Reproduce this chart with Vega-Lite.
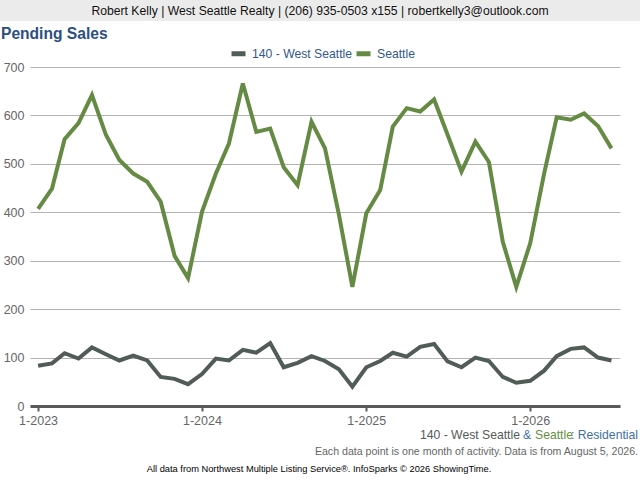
{
  "$schema": "https://vega.github.io/schema/vega-lite/v6.json",
  "width": 590,
  "height": 339,
  "autosize": {"type": "none"},
  "padding": {"left": 30, "top": 67, "right": 20, "bottom": 74},
  "background": "white",
  "config": {"view": {"stroke": null}, "font": "Liberation Sans"},
  "layer": [
    {
      "data": {"values": [{}]},
      "mark": {"type": "rect", "color": "#ebebeb"},
      "encoding": {"x": {"value": -30}, "x2": {"value": 610}, "y": {"value": -67}, "y2": {"value": -46}}
    },
    {
      "data": {"values": [{}]},
      "mark": {"type": "text", "fontSize": 12.2, "color": "#111111", "align": "center", "baseline": "middle"},
      "encoding": {"x": {"value": 290}, "y": {"value": -56}, "text": {"value": "Robert Kelly | West Seattle Realty | (206) 935-0503 x155 | robertkelly3@outlook.com"}}
    },
    {
      "data": {"values": [{}]},
      "mark": {"type": "text", "fontSize": 15.6, "fontWeight": "bold", "color": "#2b5080", "align": "left", "baseline": "middle"},
      "encoding": {"x": {"value": -29}, "y": {"value": -33}, "text": {"value": "Pending Sales"}}
    },
    {
      "data": {
        "values": [
          {"date": "2023-01-01", "area": "Seattle", "value": 407},
          {"date": "2023-02-01", "area": "Seattle", "value": 449},
          {"date": "2023-03-01", "area": "Seattle", "value": 551},
          {"date": "2023-04-01", "area": "Seattle", "value": 584},
          {"date": "2023-05-01", "area": "Seattle", "value": 642},
          {"date": "2023-06-01", "area": "Seattle", "value": 560},
          {"date": "2023-07-01", "area": "Seattle", "value": 508},
          {"date": "2023-08-01", "area": "Seattle", "value": 480},
          {"date": "2023-09-01", "area": "Seattle", "value": 463},
          {"date": "2023-10-01", "area": "Seattle", "value": 422},
          {"date": "2023-11-01", "area": "Seattle", "value": 310},
          {"date": "2023-12-01", "area": "Seattle", "value": 264},
          {"date": "2024-01-01", "area": "Seattle", "value": 401},
          {"date": "2024-02-01", "area": "Seattle", "value": 480},
          {"date": "2024-03-01", "area": "Seattle", "value": 542},
          {"date": "2024-04-01", "area": "Seattle", "value": 666},
          {"date": "2024-05-01", "area": "Seattle", "value": 566},
          {"date": "2024-06-01", "area": "Seattle", "value": 573},
          {"date": "2024-07-01", "area": "Seattle", "value": 493},
          {"date": "2024-08-01", "area": "Seattle", "value": 456},
          {"date": "2024-09-01", "area": "Seattle", "value": 587},
          {"date": "2024-10-01", "area": "Seattle", "value": 532},
          {"date": "2024-11-01", "area": "Seattle", "value": 395},
          {"date": "2024-12-01", "area": "Seattle", "value": 246},
          {"date": "2025-01-01", "area": "Seattle", "value": 398},
          {"date": "2025-02-01", "area": "Seattle", "value": 446},
          {"date": "2025-03-01", "area": "Seattle", "value": 577},
          {"date": "2025-04-01", "area": "Seattle", "value": 615},
          {"date": "2025-05-01", "area": "Seattle", "value": 608},
          {"date": "2025-06-01", "area": "Seattle", "value": 633},
          {"date": "2025-07-01", "area": "Seattle", "value": 560},
          {"date": "2025-08-01", "area": "Seattle", "value": 484},
          {"date": "2025-09-01", "area": "Seattle", "value": 546},
          {"date": "2025-10-01", "area": "Seattle", "value": 504},
          {"date": "2025-11-01", "area": "Seattle", "value": 339},
          {"date": "2025-12-01", "area": "Seattle", "value": 246},
          {"date": "2026-01-01", "area": "Seattle", "value": 336},
          {"date": "2026-02-01", "area": "Seattle", "value": 480},
          {"date": "2026-03-01", "area": "Seattle", "value": 596},
          {"date": "2026-04-01", "area": "Seattle", "value": 591},
          {"date": "2026-05-01", "area": "Seattle", "value": 604},
          {"date": "2026-06-01", "area": "Seattle", "value": 578},
          {"date": "2026-07-01", "area": "Seattle", "value": 532},
          {"date": "2023-01-01", "area": "140 - West Seattle", "value": 83},
          {"date": "2023-02-01", "area": "140 - West Seattle", "value": 88},
          {"date": "2023-03-01", "area": "140 - West Seattle", "value": 109},
          {"date": "2023-04-01", "area": "140 - West Seattle", "value": 98},
          {"date": "2023-05-01", "area": "140 - West Seattle", "value": 121},
          {"date": "2023-06-01", "area": "140 - West Seattle", "value": 107},
          {"date": "2023-07-01", "area": "140 - West Seattle", "value": 94},
          {"date": "2023-08-01", "area": "140 - West Seattle", "value": 104},
          {"date": "2023-09-01", "area": "140 - West Seattle", "value": 94},
          {"date": "2023-10-01", "area": "140 - West Seattle", "value": 60},
          {"date": "2023-11-01", "area": "140 - West Seattle", "value": 56},
          {"date": "2023-12-01", "area": "140 - West Seattle", "value": 45},
          {"date": "2024-01-01", "area": "140 - West Seattle", "value": 66},
          {"date": "2024-02-01", "area": "140 - West Seattle", "value": 98},
          {"date": "2024-03-01", "area": "140 - West Seattle", "value": 94},
          {"date": "2024-04-01", "area": "140 - West Seattle", "value": 116},
          {"date": "2024-05-01", "area": "140 - West Seattle", "value": 110},
          {"date": "2024-06-01", "area": "140 - West Seattle", "value": 130},
          {"date": "2024-07-01", "area": "140 - West Seattle", "value": 80},
          {"date": "2024-08-01", "area": "140 - West Seattle", "value": 89},
          {"date": "2024-09-01", "area": "140 - West Seattle", "value": 103},
          {"date": "2024-10-01", "area": "140 - West Seattle", "value": 93},
          {"date": "2024-11-01", "area": "140 - West Seattle", "value": 76},
          {"date": "2024-12-01", "area": "140 - West Seattle", "value": 40},
          {"date": "2025-01-01", "area": "140 - West Seattle", "value": 80},
          {"date": "2025-02-01", "area": "140 - West Seattle", "value": 93},
          {"date": "2025-03-01", "area": "140 - West Seattle", "value": 110},
          {"date": "2025-04-01", "area": "140 - West Seattle", "value": 102},
          {"date": "2025-05-01", "area": "140 - West Seattle", "value": 122},
          {"date": "2025-06-01", "area": "140 - West Seattle", "value": 128},
          {"date": "2025-07-01", "area": "140 - West Seattle", "value": 92},
          {"date": "2025-08-01", "area": "140 - West Seattle", "value": 80},
          {"date": "2025-09-01", "area": "140 - West Seattle", "value": 100},
          {"date": "2025-10-01", "area": "140 - West Seattle", "value": 93},
          {"date": "2025-11-01", "area": "140 - West Seattle", "value": 60},
          {"date": "2025-12-01", "area": "140 - West Seattle", "value": 48},
          {"date": "2026-01-01", "area": "140 - West Seattle", "value": 52},
          {"date": "2026-02-01", "area": "140 - West Seattle", "value": 73},
          {"date": "2026-03-01", "area": "140 - West Seattle", "value": 103},
          {"date": "2026-04-01", "area": "140 - West Seattle", "value": 118},
          {"date": "2026-05-01", "area": "140 - West Seattle", "value": 121},
          {"date": "2026-06-01", "area": "140 - West Seattle", "value": 100},
          {"date": "2026-07-01", "area": "140 - West Seattle", "value": 94}
        ]
      },
      "mark": {"type": "line", "strokeWidth": 4},
      "encoding": {
        "x": {
          "field": "date",
          "type": "temporal",
          "scale": {
            "type": "utc",
            "domain": [
              {"year": 2022, "month": 12, "date": 14, "utc": true},
              {"year": 2026, "month": 7, "date": 20, "utc": true}
            ]
          },
          "axis": {
            "title": null,
            "values": [
              {"year": 2023, "month": 1, "date": 1, "utc": true},
              {"year": 2024, "month": 1, "date": 1, "utc": true},
              {"year": 2025, "month": 1, "date": 1, "utc": true},
              {"year": 2026, "month": 1, "date": 1, "utc": true}
            ],
            "labelExpr": "utcFormat(datum.value, '%-m-%Y')",
            "grid": false,
            "domainColor": "#5a5a5a",
            "domainWidth": 3,
            "tickColor": "#5a5a5a",
            "tickWidth": 2,
            "tickSize": 5,
            "labelPadding": 3,
            "labelColor": "#666666",
            "labelFontSize": 12.5,
            "labelFlush": false
          }
        },
        "y": {
          "field": "value",
          "type": "quantitative",
          "scale": {"domain": [0, 700]},
          "axis": {
            "title": null,
            "values": [0, 100, 200, 300, 400, 500, 600, 700],
            "domain": false,
            "ticks": false,
            "gridColor": "#b3b3b3",
            "gridWidth": 1,
            "labelPadding": 6,
            "labelColor": "#666666",
            "labelFontSize": 12.5
          }
        },
        "color": {
          "field": "area",
          "type": "nominal",
          "scale": {"domain": ["140 - West Seattle", "Seattle"], "range": ["#515c57", "#658a43"]},
          "legend": {
            "orient": "none",
            "legendX": 199,
            "legendY": -23,
            "direction": "horizontal",
            "title": null,
            "symbolType": "stroke",
            "symbolStrokeWidth": 5,
            "symbolSize": 196,
            "labelFontSize": 12.2,
            "labelColor": "#34598a",
            "columnPadding": -7,
            "labelOffset": 4
          }
        }
      }
    },
    {
      "data": {"values": [{}]},
      "mark": {"type": "text", "fontSize": 12.2, "color": "#555b58", "align": "right", "baseline": "middle"},
      "encoding": {"x": {"value": 490}, "y": {"value": 368}, "text": {"value": "140 - West Seattle"}}
    },
    {
      "data": {"values": [{}]},
      "mark": {"type": "text", "fontSize": 12.2, "color": "#3f6fa6", "align": "left", "baseline": "middle"},
      "encoding": {"x": {"value": 493}, "y": {"value": 368}, "text": {"value": "&"}}
    },
    {
      "data": {"values": [{}]},
      "mark": {"type": "text", "fontSize": 12.2, "color": "#66903f", "align": "left", "baseline": "middle"},
      "encoding": {"x": {"value": 505}, "y": {"value": 368}, "text": {"value": "Seattle"}}
    },
    {
      "data": {"values": [{}]},
      "mark": {"type": "text", "fontSize": 12.2, "color": "#3f6fa6", "align": "right", "baseline": "middle"},
      "encoding": {"x": {"value": 608}, "y": {"value": 368}, "text": {"value": ": Residential"}}
    },
    {
      "data": {"values": [{}]},
      "mark": {"type": "text", "fontSize": 10.6, "color": "#666666", "align": "right", "baseline": "middle"},
      "encoding": {"x": {"value": 608}, "y": {"value": 385}, "text": {"value": "Each data point is one month of activity. Data is from August 5, 2026."}}
    },
    {
      "data": {"values": [{}]},
      "mark": {"type": "text", "fontSize": 9.3, "color": "#000000", "align": "center", "baseline": "middle"},
      "encoding": {"x": {"value": 289}, "y": {"value": 402}, "text": {"value": "All data from Northwest Multiple Listing Service®. InfoSparks © 2026 ShowingTime."}}
    }
  ]
}
